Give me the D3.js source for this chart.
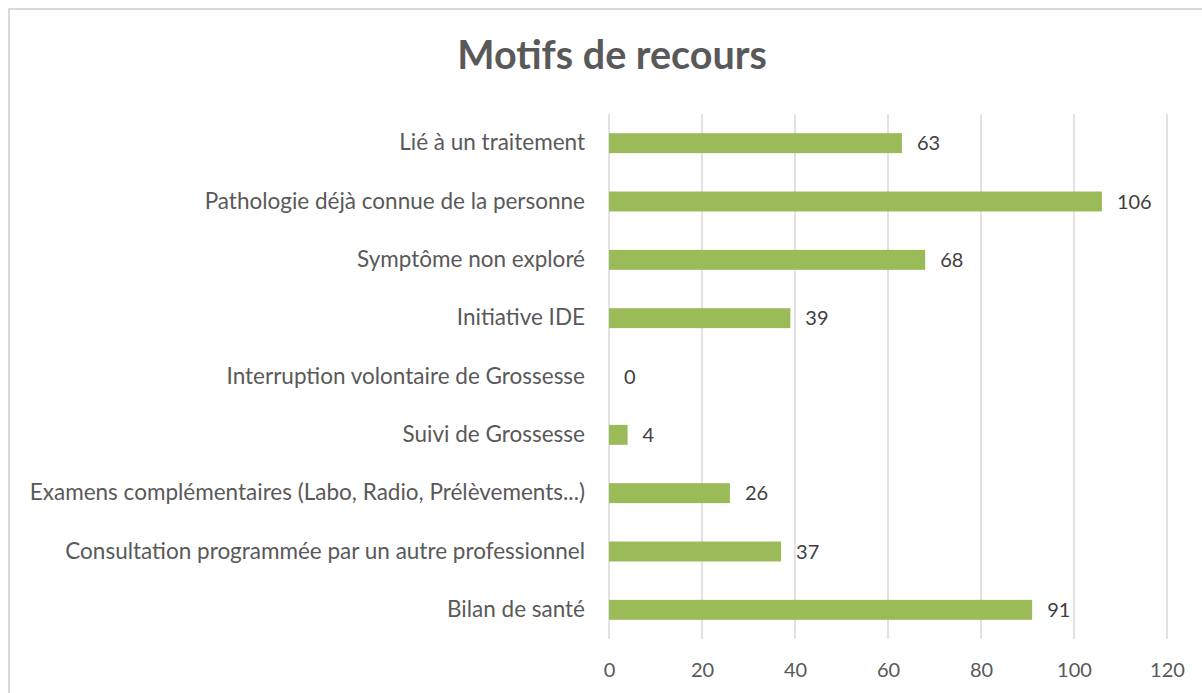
<!DOCTYPE html>
<html><head><meta charset="utf-8">
<script src="https://cdn.jsdelivr.net/npm/d3@7"></script>
<style>body{margin:0;background:#fff;overflow:hidden}svg{display:block}</style>
</head><body>
<script>
const categories = ["Lié à un traitement","Pathologie déjà connue de la personne","Symptôme non exploré","Initiative IDE","Interruption volontaire de Grossesse","Suivi de Grossesse","Examens complémentaires (Labo, Radio, Prélèvements...)","Consultation programmée par un autre professionnel","Bilan de santé"];
const values = [63,106,68,39,0,4,26,37,91];
const ticks = [0,20,40,60,80,100,120];
const title = "Motifs de recours";

const W=1202,H=693;
const svg=d3.select("body").append("svg").attr("width",W).attr("height",H);
const font="Lato, 'Open Sans', sans-serif";
svg.append("rect").attr("x",9).attr("y",9).attr("width",1200).attr("height",700)
  .attr("fill","#fff").attr("stroke","#d9d9d9").attr("stroke-width",2);
svg.append("text").attr("x",612).attr("y",69).attr("text-anchor","middle")
  .attr("font-family",font).attr("font-weight","bold").attr("font-size",39.5).attr("fill","#595959").text(title);

const x=d3.scaleLinear().domain([0,120]).range([609,1167]);
const y=d3.scaleBand().domain(categories).range([114,639]).paddingInner(0.658).paddingOuter(0.329);

const grid=svg.append("g");
grid.selectAll("line").data(ticks).join("line")
  .attr("x1",d=>x(d)).attr("x2",d=>x(d)).attr("y1",114).attr("y2",639)
  .attr("stroke","#d9d9d9").attr("stroke-width",1.5);

const xa=svg.append("g").attr("transform","translate(0,639)").call(d3.axisBottom(x).tickValues(ticks).tickSize(0).tickPadding(24));
xa.select(".domain").remove();
xa.selectAll("text").attr("font-family",font).attr("font-size",20).attr("fill","#595959");

const ya=svg.append("g").attr("transform","translate(609,0)").call(d3.axisLeft(y).tickSize(0).tickPadding(24));
ya.select(".domain").remove();
ya.selectAll("text").attr("font-family",font).attr("font-size",22.5).attr("fill","#595959");

svg.append("g").selectAll("rect").data(values).join("rect")
  .attr("x",x(0)).attr("y",(d,i)=>y(categories[i])).attr("height",y.bandwidth())
  .attr("width",d=>x(d)-x(0)).attr("fill","#9bbb59");

svg.append("g").selectAll("text").data(values).join("text")
  .attr("x",d=>x(d)+15).attr("y",(d,i)=>y(categories[i])+y.bandwidth()/2).attr("dy","0.36em")
  .attr("font-family",font).attr("font-size",20).attr("fill","#404040").text(d=>d);
</script>
</body></html>
